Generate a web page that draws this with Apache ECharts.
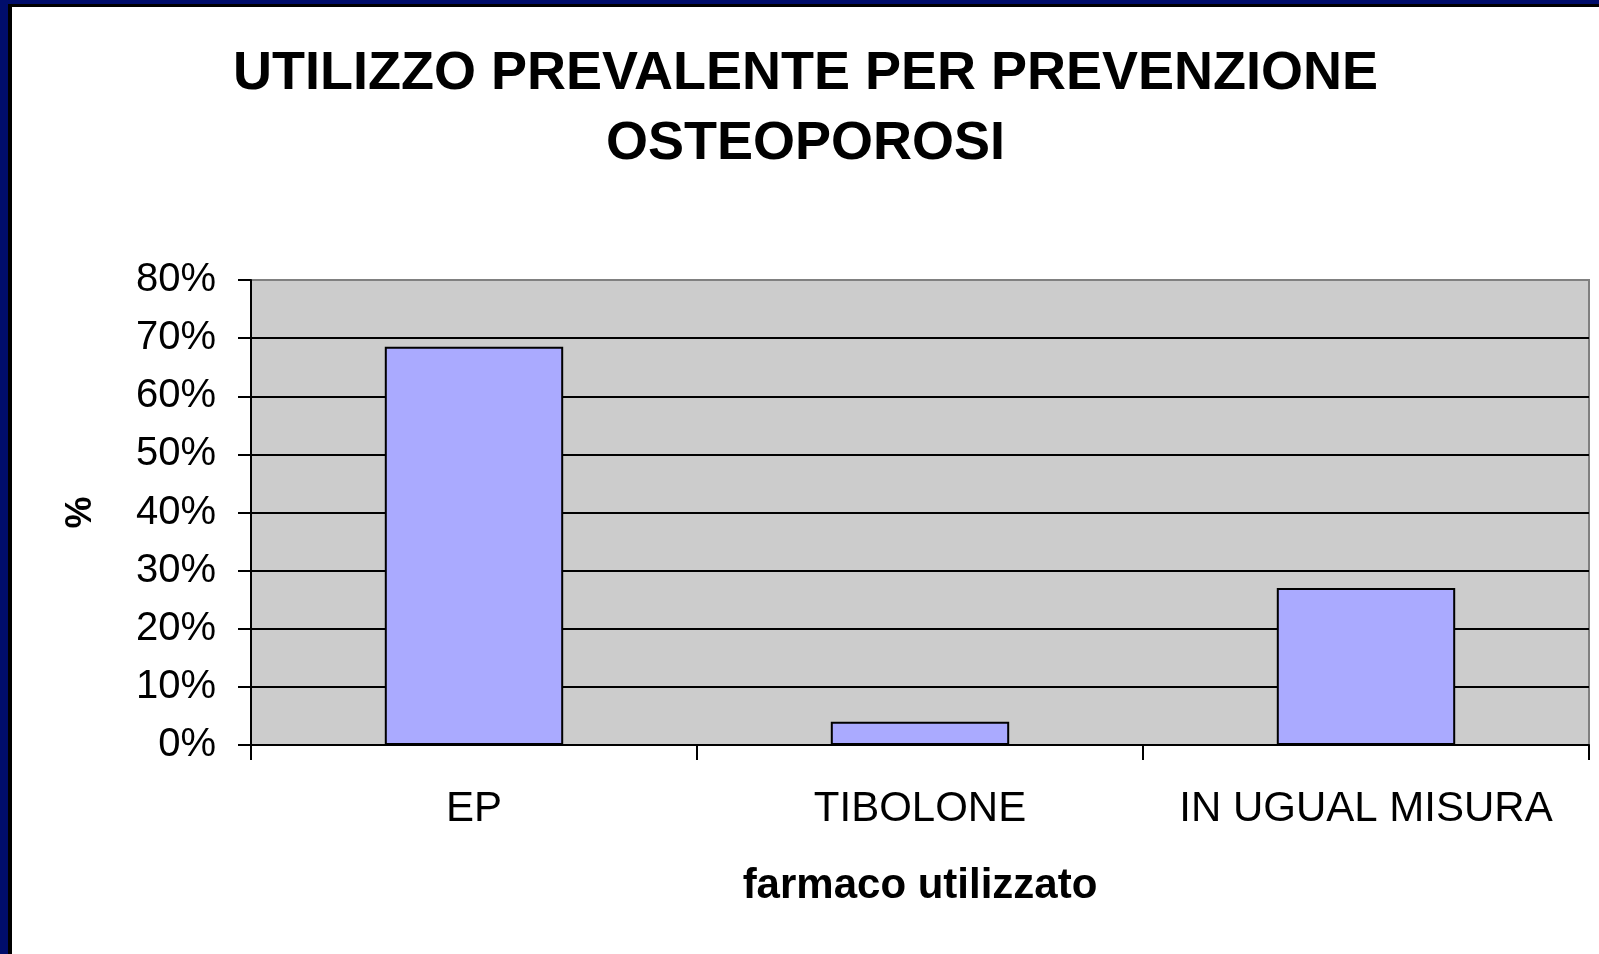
<!DOCTYPE html>
<html>
<head>
<meta charset="utf-8">
<script src="https://cdn.jsdelivr.net/npm/echarts@6/dist/echarts.min.js"></script>
<style>
  html, body { margin: 0; padding: 0; width: 1599px; height: 954px; overflow: hidden; background: #000d6b; }
  #frame { position: absolute; left: 8px; top: 4px; right: 0; bottom: 0; background: #000000; }
  #chart { position: absolute; left: 12px; top: 7px; width: 1587px; height: 947px; background: #ffffff; }
</style>
</head>
<body>
<div id="frame"></div>
<div id="chart"></div>
<script>
const titleLines = ['UTILIZZO PREVALENTE PER PREVENZIONE', 'OSTEOPOROSI'];
const categories = ['EP', 'TIBOLONE', 'IN UGUAL MISURA'];
const values = [68.5, 4, 27];
const yTicks = { min: 0, max: 80, interval: 10 };
const xAxisName = 'farmaco utilizzato';
const yAxisName = '%';

const chart = echarts.init(document.getElementById('chart'), null, { renderer: 'canvas' });
chart.setOption({
  backgroundColor: '#ffffff',
  animation: false,
  title: {
    text: titleLines.join('\n'),
    left: 'center',
    top: 27,
    textStyle: {
      fontFamily: 'Liberation Sans, Arial, sans-serif',
      fontWeight: 'bold',
      fontSize: 54,
      lineHeight: 70,
      color: '#000000'
    }
  },
  grid: {
    left: 239,
    right: 10,
    top: 273,
    bottom: 209,
    show: true,
    backgroundColor: '#cccccc',
    borderColor: '#808080',
    borderWidth: 2
  },
  xAxis: {
    type: 'category',
    data: categories,
    name: xAxisName,
    nameLocation: 'middle',
    nameGap: 120,
    nameTextStyle: {
      fontFamily: 'Liberation Sans, Arial, sans-serif',
      fontWeight: 'bold',
      fontSize: 42,
      color: '#000000'
    },
    axisLine: { show: true, lineStyle: { color: '#000000', width: 2 } },
    axisTick: { show: true, interval: 0, length: 15, lineStyle: { color: '#000000', width: 2 } },
    axisLabel: {
      interval: 0,
      margin: 43,
      fontFamily: 'Liberation Sans, Arial, sans-serif',
      fontSize: 42,
      color: '#000000'
    },
    splitLine: { show: false }
  },
  yAxis: {
    type: 'value',
    min: yTicks.min,
    max: yTicks.max,
    interval: yTicks.interval,
    name: yAxisName,
    nameLocation: 'middle',
    nameGap: 152,
    nameTextStyle: {
      fontFamily: 'Liberation Sans, Arial, sans-serif',
      fontWeight: 'bold',
      fontSize: 36,
      color: '#000000'
    },
    axisLine: { show: true, lineStyle: { color: '#000000', width: 2 } },
    axisTick: { show: true, length: 13, lineStyle: { color: '#000000', width: 2 } },
    axisLabel: {
      margin: 35,
      formatter: '{value}%',
      fontFamily: 'Liberation Sans, Arial, sans-serif',
      fontSize: 40,
      color: '#000000'
    },
    splitLine: { show: true, showMaxLine: false, lineStyle: { color: '#000000', width: 2 } }
  },
  series: [{
    type: 'bar',
    data: values,
    barCategoryGap: '60%',
    itemStyle: { color: '#aaaaff', borderColor: '#000000', borderWidth: 2 }
  }]
});
</script>
</body>
</html>
